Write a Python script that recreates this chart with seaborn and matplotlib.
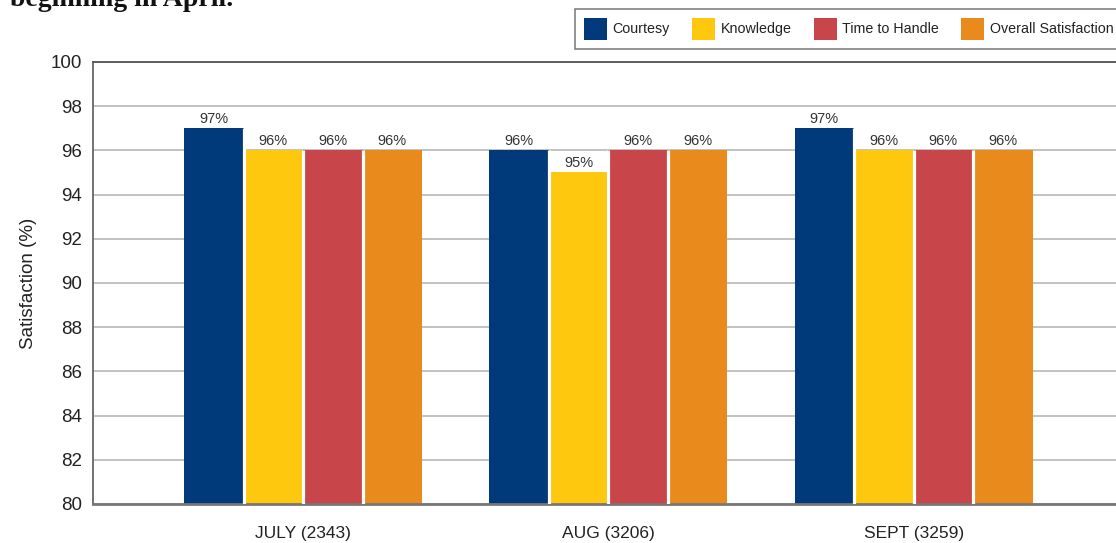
import matplotlib
matplotlib.use("Agg")
import matplotlib.pyplot as plt
from matplotlib.patches import Patch
import seaborn as sns
import pandas as pd

months = ["JULY (2343)", "AUG (3206)", "SEPT (3259)"]
metrics = ["Courtesy", "Knowledge", "Time to Handle", "Overall Satisfaction"]
courtesy = [97, 96, 97]
knowledge = [96, 95, 96]
time_to_handle = [96, 96, 96]
overall = [96, 96, 96]
colors = ["#003A7A", "#FEC80E", "#C8454A", "#E98A1D"]
yticks = [80, 82, 84, 86, 88, 90, 92, 94, 96, 98, 100]

series = [courtesy, knowledge, time_to_handle, overall]
rows = []
for m, vals in zip(metrics, series):
    for mo, v in zip(months, vals):
        rows.append({"month": mo, "metric": m, "value": v})
df = pd.DataFrame(rows)

sns.set_theme(style="white")
FONT = ["Liberation Sans", "DejaVu Sans"]
plt.rcParams["font.family"] = FONT

W, H = 1116, 543
fig = plt.figure(figsize=(W / 100, H / 100), dpi=100)
ax = fig.add_axes([93 / W, 1 - 504 / H, (W - 93) / W, (504 - 62) / H])

sns.barplot(data=df, x="month", y="value", hue="metric", order=months,
            hue_order=metrics, palette=colors, saturation=1, width=0.78,
            gap=0, ax=ax, errorbar=None, edgecolor="none", linewidth=0,
            legend=False)

ax.set_ylim(80, 100)
ax.set_xlim(-0.688, 2.663)
ax.set_yticks(yticks)
ax.set_yticklabels([str(t) for t in yticks])
ax.yaxis.grid(True, color="#BDBDBD", linewidth=1.3)
ax.set_axisbelow(True)
ax.tick_params(axis="both", length=0)
ax.tick_params(axis="y", labelsize=13.5, pad=8, labelcolor="#222222")
ax.tick_params(axis="x", labelsize=12.5, pad=16, labelcolor="#222222")
ax.set_xlabel("")
ax.set_ylabel("Satisfaction (%)", fontsize=13.5, color="#222222", labelpad=10)

ax.spines["right"].set_visible(False)
ax.spines["left"].set_color("#666666")
ax.spines["left"].set_linewidth(1.3)
ax.spines["top"].set_color("#555555")
ax.spines["top"].set_linewidth(1.3)
ax.spines["bottom"].set_color("#777777")
ax.spines["bottom"].set_linewidth(2)

# white separators between adjacent bars of a group (derived from the bars)
ymin = ax.get_ylim()[0]
for i in range(len(months)):
    grp = sorted([cont.patches[i] for cont in ax.containers],
                 key=lambda p: p.get_x())
    for a, b in zip(grp[:-1], grp[1:]):
        xb = a.get_x() + a.get_width()
        top = max(a.get_height(), b.get_height())
        ax.vlines(xb, ymin, top, colors="white", linewidth=2.3, zorder=3)

for cont in ax.containers:
    ax.bar_label(cont, labels=[f"{v:.0f}%" for v in cont.datavalues],
                 padding=2, fontsize=10.5, color="#333333")

handles = [Patch(facecolor=c, edgecolor="none") for c in colors]
leg = fig.legend(handles, metrics, loc="upper left",
                 bbox_to_anchor=(575 / W, 1 - 9 / H), borderaxespad=0,
                 ncol=4, frameon=True, fancybox=False, edgecolor="#555555",
                 fontsize=10.3, handlelength=1.6, handleheight=2.0,
                 handletextpad=0.4, columnspacing=1.55, borderpad=0.62)
leg.get_frame().set_linewidth(1.1)
for t in leg.get_texts():
    t.set_color("#222222")

fig.text(10 / W, 1 - 6 / H, "beginning in April.", fontsize=20,
         fontweight="bold", family=["Liberation Serif", "DejaVu Serif"],
         va="baseline", ha="left", color="#111111")

fig.savefig("out.png", dpi=100)
